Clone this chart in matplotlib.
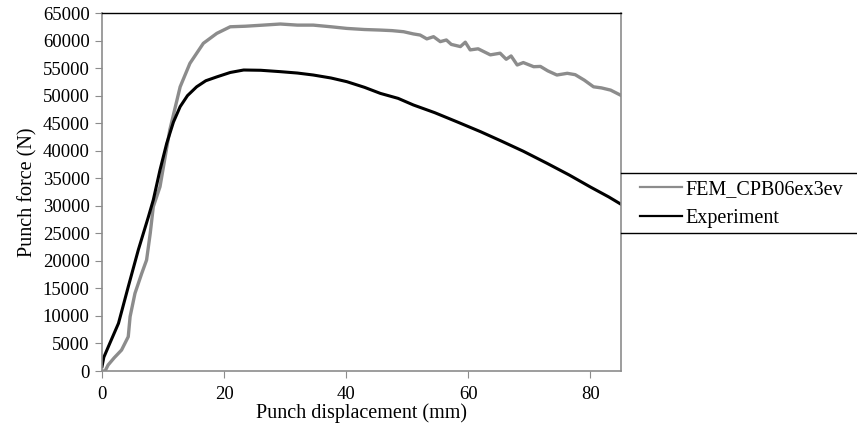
import matplotlib
matplotlib.use("Agg")
import matplotlib.pyplot as plt
from matplotlib.lines import Line2D

# punch displacement (mm) / punch force (N)
exp_x = [0, 0.3, 1.3, 2.7, 4.3, 5.95, 7.6, 8.4, 9.5, 10.6, 11.7, 12.8, 14.0, 15.5,
         17.0, 18.8, 21.0, 23.2, 26.0, 29.2, 32.0, 34.6, 37.5, 40.1, 43.0, 45.6,
         48.5, 51.0, 54.5, 58.1, 62.0, 65.5, 69.0, 72.9, 76.5, 80.0, 83.0, 85.2]
exp_y = [800, 2500, 5080, 8660, 15300, 22000, 28000, 31050, 36500, 41340, 45200,
         48000, 50000, 51600, 52700, 53400, 54200, 54650, 54600, 54350, 54100,
         53740, 53200, 52530, 51500, 50400, 49500, 48300, 46900, 45260, 43450,
         41700, 39900, 37700, 35600, 33400, 31600, 30140]

fem_x = [0, 0.5, 1.0, 2.0, 3.2, 4.3, 4.6, 5.4, 6.5, 7.3, 7.9, 8.4, 9.5, 11.1, 12.8,
         14.4, 16.6, 18.8, 21.0, 23.5, 26.4, 29.2, 32.0, 34.6, 37.5, 40.1, 43.0,
         45.6, 47.5, 49.4, 51.0, 52.1, 53.2, 54.3, 55.4, 56.4, 57.2, 58.7, 59.5,
         60.3, 61.6, 63.6, 65.2, 66.2, 67.0, 68.0, 69.0, 70.7, 71.8, 73.0, 74.5,
         76.2, 77.5, 79.0, 80.5, 81.8, 83.3, 85.2]
fem_y = [0, 0, 1090, 2400, 3800, 6230, 9860, 14100, 17700, 20150, 25000, 29830,
         33460, 43750, 51600, 55860, 59500, 61300, 62500, 62600, 62800, 63000,
         62800, 62800, 62500, 62200, 62000, 61900, 61800, 61600, 61200, 61000,
         60300, 60700, 59800, 60100, 59300, 58900, 59700, 58300, 58500, 57400,
         57700, 56600, 57200, 55560, 56000, 55250, 55300, 54500, 53740, 54050,
         53800, 52800, 51600, 51400, 51000, 49930]

plt.rcParams['font.family'] = ['Liberation Serif', 'DejaVu Serif']

W, H = 857, 429
fig = plt.figure(figsize=(W / 100, H / 100), dpi=100)
ax = fig.add_axes([102 / W, 1 - 371 / H, 519 / W, 358 / H])

ax.plot(fem_x, fem_y, color='#8c8c8c', lw=2.4, label='FEM_CPB06ex3ev')
ax.plot(exp_x, exp_y, color='black', lw=2.2, label='Experiment')

ax.set_xlim(0, 85)
ax.set_ylim(0, 65000)
ax.set_xticks([0, 20, 40, 60, 80])
ax.set_yticks(range(0, 65001, 5000))
ax.tick_params(direction='out', length=5, color='#8c8c8c', labelsize=13.5, pad=4)
ax.tick_params(axis='x', pad=6)

for s in ['left', 'bottom', 'right']:
    ax.spines[s].set_color('#8c8c8c')
    ax.spines[s].set_linewidth(1.2)
ax.spines['top'].set_color('black')
ax.spines['top'].set_linewidth(1.0)

ax.set_xlabel('Punch displacement (mm)', fontsize=14.5, labelpad=0)
ax.set_ylabel('Punch force (N)', fontsize=14.5, labelpad=4)

# legend box: only top and bottom edges, it runs off the right side
# and its left edge is the gray plot border
for yb in (173, 233):
    fig.add_artist(Line2D([621 / W, 1.0], [1 - yb / H, 1 - yb / H],
                          transform=fig.transFigure, color='black', lw=1.0))
leg = fig.legend(loc='center left', bbox_to_anchor=(640 / W, 1 - 204 / H),
                 fontsize=14.5, frameon=False, handlelength=2.1,
                 handletextpad=0.15, borderpad=0, borderaxespad=0,
                 labelspacing=0.45)
for ln in leg.get_lines():
    ln.set_linewidth(1.6)

fig.savefig('out.png', dpi=100)
